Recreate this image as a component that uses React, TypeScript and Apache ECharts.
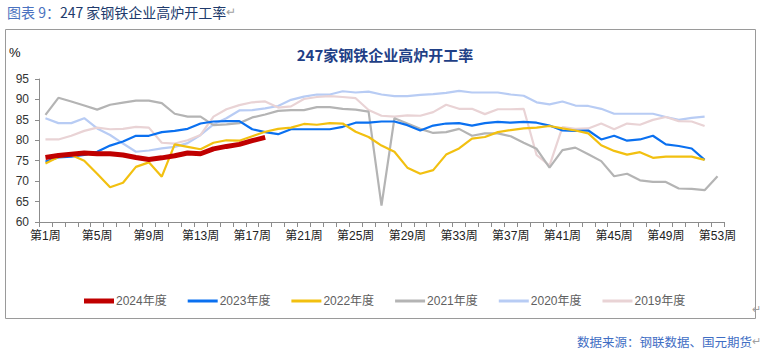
import React, { useEffect, useRef } from "react";
import * as echarts from "echarts";

const weeks: string[] = Array.from({ length: 53 }, (_, i) => `第${i + 1}周`);

const y2024 = [75.8, 76.3, 76.6, 76.9, 76.7, 76.7, 76.4, 75.8, 75.3, 75.7, 76.2, 76.9, 76.7, 77.9, 78.5, 79.0, 79.9, 80.7];
const y2023 = [74.8, 75.8, 76.0, 76.4, 77.2, 78.7, 79.7, 81.1, 81.1, 82.0, 82.3, 82.8, 84.1, 84.6, 84.7, 84.7, 82.7, 82.0, 81.5, 82.7, 82.7, 82.7, 82.7, 83.3, 84.3, 84.3, 84.6, 84.6, 83.7, 82.4, 83.6, 84.1, 84.2, 83.6, 84.2, 84.5, 84.3, 84.5, 84.3, 83.6, 82.4, 82.3, 82.4, 80.2, 81.1, 79.9, 80.2, 81.1, 79.0, 78.6, 78.0, 75.2];
const y2022 = [74.3, 75.9, 76.4, 75.0, 71.8, 68.5, 69.6, 73.5, 74.6, 71.1, 79.0, 78.4, 77.8, 79.4, 80.0, 79.9, 81.0, 82.1, 82.8, 83.1, 84.0, 83.8, 84.2, 84.1, 82.1, 80.8, 78.7, 77.2, 73.3, 71.8, 72.7, 76.5, 78.0, 80.4, 80.8, 82.0, 82.5, 82.9, 83.1, 83.5, 82.9, 82.4, 81.7, 78.8, 77.4, 76.5, 77.1, 75.7, 76.0, 76.0, 76.0, 75.2];
const y2021 = [86.2, 90.4, 89.5, 88.5, 87.5, 88.7, 89.2, 89.7, 89.7, 89.1, 86.5, 85.8, 85.8, 83.7, 83.9, 84.2, 85.6, 86.3, 87.2, 87.4, 87.4, 88.1, 88.1, 87.7, 87.5, 87.0, 64.0, 85.4, 84.1, 82.8, 81.8, 82.0, 82.8, 81.1, 81.7, 81.7, 81.0, 79.4, 77.9, 73.3, 77.6, 78.2, 76.6, 74.9, 71.2, 71.8, 70.2, 69.8, 69.8, 68.2, 68.1, 67.8, 71.2];
const y2020 = [85.4, 84.2, 84.2, 85.4, 82.9, 81.3, 79.2, 77.2, 77.5, 78.0, 78.4, 79.3, 81.3, 83.9, 85.4, 87.3, 87.4, 87.8, 88.4, 89.9, 90.7, 91.2, 91.2, 92.0, 91.7, 91.9, 91.2, 90.8, 90.8, 91.1, 91.3, 91.6, 92.1, 91.7, 91.7, 91.7, 91.2, 90.9, 89.3, 88.8, 89.5, 88.5, 88.4, 87.7, 86.5, 86.5, 86.5, 86.5, 85.7, 85.0, 85.5, 85.8];
const y2019 = [80.2, 80.2, 81.1, 82.3, 83.1, 82.7, 82.8, 83.3, 83.1, 79.4, 79.2, 80.0, 81.3, 85.8, 87.6, 88.6, 89.3, 89.5, 88.0, 88.3, 90.1, 90.6, 90.8, 90.6, 90.3, 87.4, 86.0, 85.8, 86.1, 86.0, 86.9, 88.7, 87.7, 87.7, 86.4, 87.6, 87.6, 87.7, 76.4, 73.8, 83.2, 82.8, 82.9, 84.1, 82.7, 84.1, 83.8, 85.0, 85.7, 84.7, 84.6, 83.5];

const seriesNames = ["2024年度", "2023年度", "2022年度", "2021年度", "2020年度", "2019年度"];
const seriesData = [y2024, y2023, y2022, y2021, y2020, y2019];
const seriesColors = ["#c00000", "#0a70f0", "#f2c010", "#b4b4b4", "#b8ccf4", "#e9d3d5"];
const seriesWidths = [5, 2.2, 2.2, 2.2, 2.2, 2.2];
const seriesZ = [10, 6, 7, 5, 3, 4];
const legendIcons = [
  "path://M0,0H30V5H0Z",
  "path://M0,0H30V3H0Z",
  "path://M0,0H30V3H0Z",
  "path://M0,0H30V3H0Z",
  "path://M0,0H30V3H0Z",
  "path://M0,0H30V3H0Z",
];

const FONT = "'Liberation Sans', 'Noto Sans CJK SC', sans-serif";

export default function App() {
  const ref = useRef<HTMLDivElement>(null);
  useEffect(() => {
    if (!ref.current) return;
    const chart = echarts.init(ref.current, null, { renderer: "svg" });
    chart.setOption({
      animation: false,
      backgroundColor: "#ffffff",
      textStyle: { fontFamily: FONT },
      grid: { left: 39, right: 43, top: 79, bottom: 132, containLabel: false },
      title: {
        text: "247家钢铁企业高炉开工率",
        left: 380,
        textAlign: "center",
        top: 42,
        textStyle: { fontSize: 15, fontWeight: "bold", color: "#1f3f86", fontFamily: "'Noto Sans CJK SC', serif" },
      },
      legend: {
        data: seriesNames.map((name, i) => ({ name, icon: legendIcons[i] })),
        left: 79,
        top: 290,
        itemWidth: 30,
        itemHeight: 14,
        itemGap: 21,
        symbolKeepAspect: true,
        textStyle: { fontSize: 12, color: "#606060", fontFamily: FONT, padding: [0, 0, 0, -3] },
      },
      xAxis: {
        type: "category",
        data: weeks,
        boundaryGap: true,
        axisLine: { lineStyle: { color: "#8c8c8c", width: 1 } },
        axisTick: { show: true, interval: 0, length: 5, lineStyle: { color: "#8c8c8c" } },
        axisLabel: { interval: 3, fontSize: 12, color: "#222", margin: 8, fontFamily: FONT },
        splitLine: { show: false },
      },
      yAxis: {
        type: "value",
        min: 60,
        max: 95,
        interval: 5,
        axisLine: { show: true, lineStyle: { color: "#8c8c8c", width: 1 } },
        axisTick: { show: true, length: 4, lineStyle: { color: "#8c8c8c" } },
        axisLabel: { fontSize: 12, color: "#333", margin: 10, fontFamily: FONT },
        splitLine: { show: false },
      },
      series: seriesNames.map((name, i) => ({
        name,
        type: "line",
        data: seriesData[i],
        symbol: "none",
        z: seriesZ[i],
        lineStyle: { color: seriesColors[i], width: seriesWidths[i] },
        itemStyle: { color: seriesColors[i] },
      })),
      graphic: [
        {
          type: "rect",
          shape: { x: 5.5, y: 29.5, width: 750, height: 289 },
          style: { fill: "none", stroke: "#9a9a9a", lineWidth: 1 },
          z: -1,
        },
        {
          type: "text",
          x: 7,
          y: 5,
          style: {
            text: "{a|图表 9：}{b|247 家钢铁企业高炉开工率}{c|↵}",
            rich: {
              a: { fontSize: 14, fill: "#4a72c0", fontFamily: "'Noto Sans CJK SC', sans-serif" },
              b: { fontSize: 14, fill: "#203a6c", fontFamily: "'Noto Sans CJK SC', sans-serif" },
              c: { fontSize: 12, fill: "#a0a0a0" },
            },
          },
        },
        {
          type: "text",
          x: 9,
          y: 46,
          style: { text: "%", fontSize: 13, fill: "#111", fontFamily: FONT },
        },
        {
          type: "text",
          x: 752,
          y: 303,
          style: { text: "↵", fontSize: 11, fill: "#a0a0a0" },
        },
        {
          type: "text",
          x: 577,
          y: 335,
          style: {
            text: "{a|数据来源：钢联数据、国元期货}{c|↵}",
            rich: {
              a: { fontSize: 12.5, fill: "#3f6ec4", fontFamily: "'Noto Sans CJK SC', sans-serif" },
              c: { fontSize: 11, fill: "#a0a0a0" },
            },
          },
        },
      ],
    });
    return () => chart.dispose();
  }, []);
  return (
    <div
      ref={ref}
      style={{ position: "fixed", left: 0, top: 0, width: 767, height: 354, background: "#fff" }}
    />
  );
}
